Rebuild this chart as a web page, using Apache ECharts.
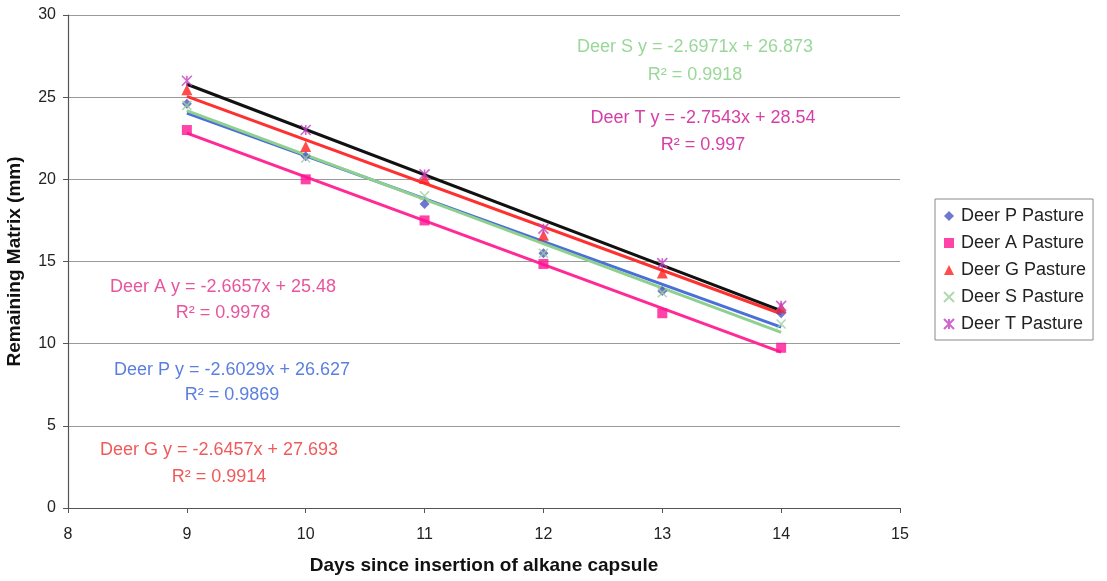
<!DOCTYPE html>
<html>
<head>
<meta charset="utf-8">
<script src="https://cdn.jsdelivr.net/npm/echarts@6/dist/echarts.min.js"></script>
<style>
  html, body { margin: 0; padding: 0; background: #ffffff; }
  #chart { width: 1107px; height: 581px; }
</style>
</head>
<body>
<div id="chart"></div>
<script>
// Days since the alkane capsule went in
const days = [9, 10, 11, 12, 13, 14];

// Remaining matrix length (mm) per deer
const deerP = [24.6, 21.4, 18.5, 15.5, 13.2, 11.85];
const deerA = [23.0, 20.0, 17.5, 14.85, 11.85, 9.75];
const deerG = [25.45, 22.0, 20.05, 16.6, 14.3, 12.2];
const deerS = [24.5, 21.3, 19.0, 15.5, 13.1, 11.2];
const deerT = [26.0, 23.0, 20.3, 17.0, 14.9, 12.3];

// Linear trend fits (x counts sampling occasions, 1 = day 9)
const trendNames = ['S', 'T', 'A', 'P', 'G'];
const trendSlopes = [-2.6971, -2.7543, -2.6657, -2.6029, -2.6457];
const trendIntercepts = [26.873, 28.54, 25.48, 26.627, 27.693];
const trendR2 = ['0.9918', '0.997', '0.9978', '0.9869', '0.9914'];

// Axis ticks
const xTicks = [8, 9, 10, 11, 12, 13, 14, 15];
const yTicks = [0, 5, 10, 15, 20, 25, 30];

const FONT = '"Liberation Sans", Arial, sans-serif';

const colors = {
  P: { marker: '#4b55c4', line: '#4a6fd8', text: '#5b7fe0' },
  A: { marker: '#ff1493', line: '#ff2a96', text: '#e8559e' },
  G: { marker: '#ff2020', line: '#ff3030', text: '#f05a5a' },
  S: { marker: '#9ccf9c', line: '#8fd08f', text: '#9ad89a' },
  T: { marker: '#c33ec3', line: '#111111', text: '#d63fa8' }
};

function pts(values) {
  return days.map((d, i) => [d, values[i]]);
}

function trendLine(key) {
  const k = trendNames.indexOf(key);
  const a = trendSlopes[k], b = trendIntercepts[k];
  const x0 = days[0], x1 = days[days.length - 1];
  return [[x0, a * (x0 - 8) + b], [x1, a * (x1 - 8) + b]];
}

const starPath = 'path://M0,0L10,10M10,0L0,10M5,0L5,10';
const crossPath = 'path://M0,0L10,10M10,0L0,10';

const scatterDefs = [
  { key: 'P', name: 'Deer P Pasture', data: deerP, symbol: 'diamond', size: 10 },
  { key: 'A', name: 'Deer A Pasture', data: deerA, symbol: 'rect', size: 10 },
  { key: 'G', name: 'Deer G Pasture', data: deerG, symbol: 'triangle', size: 11 },
  { key: 'S', name: 'Deer S Pasture', data: deerS, symbol: crossPath, size: 9, stroke: true },
  { key: 'T', name: 'Deer T Pasture', data: deerT, symbol: starPath, size: 10, stroke: true }
];

const series = [];
// trend lines, drawn beneath the markers
['P', 'A', 'G', 'S', 'T'].forEach(key => {
  series.push({
    name: 'trend ' + key,
    type: 'line',
    data: trendLine(key),
    showSymbol: false,
    symbol: 'none',
    lineStyle: { color: colors[key].line, width: 3 },
    z: 2,
    silent: true,
    animation: false
  });
});
scatterDefs.forEach(d => {
  const style = d.stroke
    ? { color: 'rgba(0,0,0,0)', borderColor: colors[d.key].marker, borderWidth: 1.6 }
    : { color: colors[d.key].marker };
  series.push({
    name: d.name,
    type: 'scatter',
    data: pts(d.data),
    symbol: d.symbol,
    symbolSize: d.size,
    itemStyle: style,
    z: 3,
    animation: false
  });
});

// Trend equation labels
const labelPos = {
  S: { x: 695, y1: 47, y2: 75 },
  T: { x: 703, y1: 118, y2: 145 },
  A: { x: 223, y1: 287, y2: 313 },
  P: { x: 232, y1: 370, y2: 395 },
  G: { x: 219, y1: 450, y2: 477 }
};
const graphics = [];
trendNames.forEach((key, k) => {
  const p = labelPos[key];
  const eq = 'Deer ' + key + ' y = ' + trendSlopes[k] + 'x + ' + trendIntercepts[k];
  graphics.push({
    type: 'text', silent: true,
    style: { text: eq, x: p.x, y: p.y1, fill: colors[key].text,
      font: '18px ' + FONT, textAlign: 'center', textVerticalAlign: 'middle' }
  });
  graphics.push({
    type: 'text', silent: true,
    style: { text: 'R\u00B2 = ' + trendR2[k], x: p.x, y: p.y2, fill: colors[key].text,
      font: '18px ' + FONT, textAlign: 'center', textVerticalAlign: 'middle' }
  });
});

const chart = echarts.init(document.getElementById('chart'), null, { renderer: 'canvas' });
chart.setOption({
  backgroundColor: '#ffffff',
  animation: false,
  textStyle: { fontFamily: FONT },
  grid: { left: 68, right: 207, top: 15, bottom: 73, containLabel: false, outerBoundsMode: 'none' },
  xAxis: {
    type: 'value',
    min: xTicks[0],
    max: xTicks[xTicks.length - 1],
    interval: 1,
    name: 'Days since insertion of alkane capsule',
    nameLocation: 'middle',
    nameGap: 48,
    nameTextStyle: { fontSize: 19, fontWeight: 'bold', color: '#111', fontFamily: FONT },
    axisLine: { onZero: false, lineStyle: { color: '#555', width: 1.2 } },
    axisTick: { show: true, length: 5, lineStyle: { color: '#555' } },
    axisLabel: { fontSize: 16, color: '#222', margin: 19, fontFamily: FONT },
    splitLine: { show: false }
  },
  yAxis: {
    type: 'value',
    min: yTicks[0],
    max: yTicks[yTicks.length - 1],
    interval: 5,
    name: 'Remaining Matrix (mm)',
    nameLocation: 'middle',
    nameGap: 44,
    nameTextStyle: { fontSize: 19, fontWeight: 'bold', color: '#111', fontFamily: FONT },
    axisLine: { show: true, lineStyle: { color: '#555', width: 1.2 } },
    axisTick: { show: true, length: 5, lineStyle: { color: '#555' } },
    axisLabel: { fontSize: 16, color: '#222', margin: 12, fontFamily: FONT },
    splitLine: { show: true, lineStyle: { color: '#9a9a9a', width: 1 } }
  },
  legend: {
    orient: 'vertical',
    left: 935,
    top: 199,
    data: scatterDefs.map(d => d.name),
    itemWidth: 10,
    itemHeight: 10,
    itemGap: 9,
    padding: [8, 7, 7, 8],
    borderColor: '#8a8a8a',
    borderWidth: 1,
    textStyle: { fontSize: 18, color: '#222', fontFamily: FONT, lineHeight: 18, padding: [0, 0, 0, 2] }
  },
  series: series,
  graphic: graphics
});
</script>
</body>
</html>
